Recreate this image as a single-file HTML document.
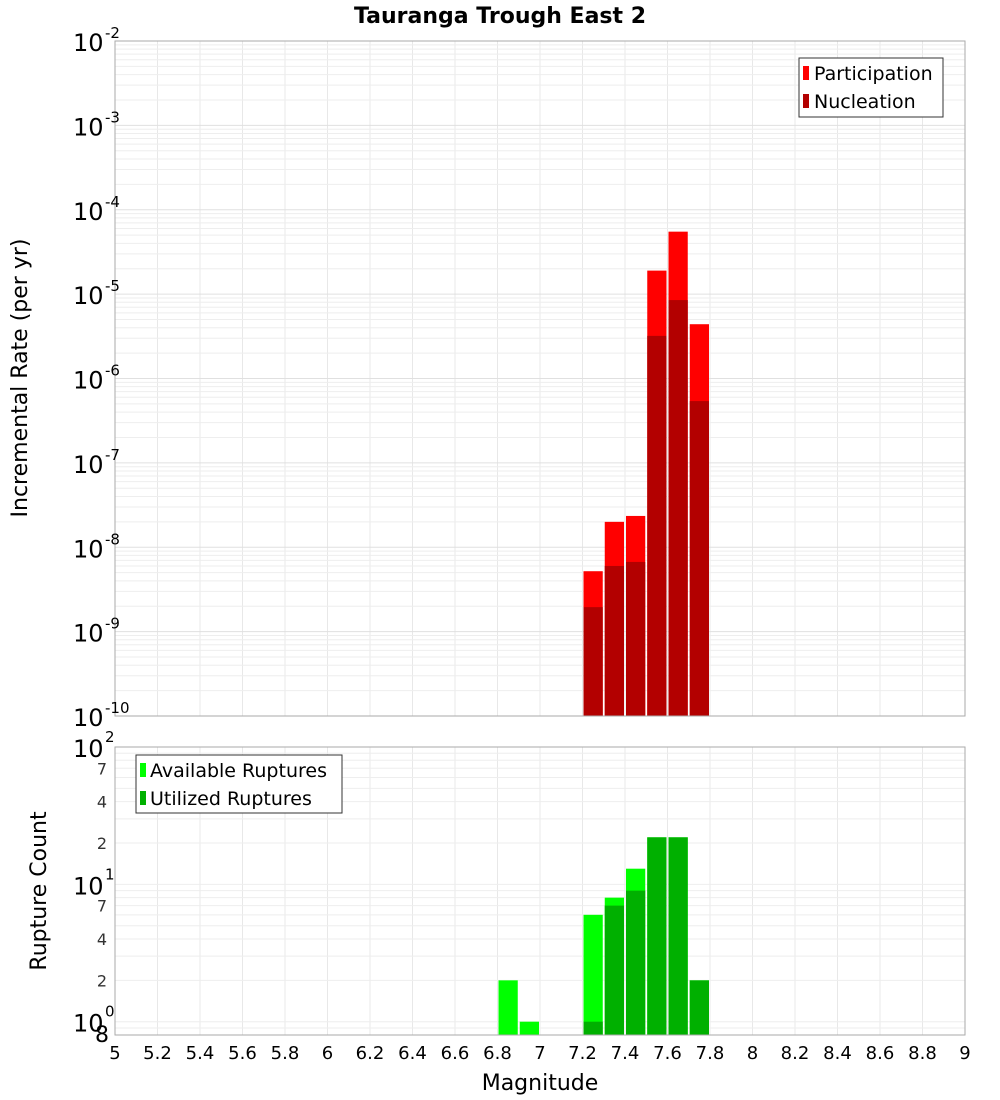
<!DOCTYPE html>
<html><head><meta charset="utf-8"><style>
body{margin:0;background:#fff;}
svg{display:block;font-family:"DejaVu Sans","Liberation Sans",sans-serif;}
</style></head><body>
<svg id="c" width="1000" height="1100" xmlns="http://www.w3.org/2000/svg">
<text x="500" y="23" text-anchor="middle" font-size="22" font-weight="bold">Tauranga Trough East 2</text>
<g id="topplot"></g>
<g id="botplot"></g>
<text transform="translate(27,378) rotate(-90)" text-anchor="middle" font-size="22">Incremental Rate (per yr)</text>
<text transform="translate(46,891) rotate(-90)" text-anchor="middle" font-size="22">Rupture Count</text>
<text x="540" y="1090" text-anchor="middle" font-size="22">Magnitude</text>
<g>
<rect x="799" y="58" width="144" height="59" fill="#fff" stroke="#333"/>
<rect x="803" y="66" width="6" height="14" fill="#ff0000"/>
<text x="814" y="80" font-size="19">Participation</text>
<rect x="803" y="94" width="6" height="14" fill="#b30000"/>
<text x="814" y="108" font-size="19">Nucleation</text>
</g>
<g>
<rect x="136" y="755" width="206" height="58" fill="#fff" stroke="#333"/>
<rect x="140" y="763" width="6" height="14" fill="#00ff00"/>
<text x="150" y="777" font-size="19">Available Ruptures</text>
<rect x="140" y="791" width="6" height="14" fill="#00b000"/>
<text x="150" y="805" font-size="19">Utilized Ruptures</text>
</g>
</svg>
<script>
const mags=[7.25,7.35,7.45,7.55,7.65,7.75];
const participation=[5.2e-9,2.0e-8,2.35e-8,1.9e-5,5.5e-5,4.4e-6];
const nucleation=[1.95e-9,6.0e-9,6.7e-9,3.2e-6,8.5e-6,5.4e-7];
const countMags=[6.85,6.95,7.25,7.35,7.45,7.55,7.65,7.75];
const available=[2,1,6,8,13,22,22,2];
const utilized=[0,0,1,7,9,22,22,2];
const xTicks=[5,5.2,5.4,5.6,5.8,6,6.2,6.4,6.6,6.8,7,7.2,7.4,7.6,7.8,8,8.2,8.4,8.6,8.8,9];
const topExp=[-2,-3,-4,-5,-6,-7,-8,-9,-10];
const botTicks=[2,4,7,20,40,70];
const NS="http://www.w3.org/2000/svg";
const X0=115,X1=965;
const x=m=>X0+(m-5)/4*(X1-X0);
const T0=41,T1=716;
const yT=v=>T0+(-2-Math.log10(v))/8*(T1-T0);
const B0=747,B1=1035,BL=Math.log10(0.8);
const yB=v=>B1-(Math.log10(v)-BL)/(2-BL)*(B1-B0);
function el(p,t,a){const e=document.createElementNS(NS,t);for(const k in a)e.setAttribute(k,a[k]);p.appendChild(e);return e;}
const topG=document.getElementById('topplot'),botG=document.getElementById('botplot');
for(const g of [[topG,T0,T1],[botG,B0,B1]]){
  for(const t of xTicks){const l=el(g[0],'line',{x1:x(t),x2:x(t),y1:g[1],y2:g[2],stroke:'#e8e8e8'});
  
  }
}
for(let e=-10;e<-2;e++)for(let k=1;k<10;k++){const v=k*Math.pow(10,e);const l=el(topG,'line',{x1:X0,x2:X1,y1:yT(v),y2:yT(v),stroke:k==1?'#e0e0e0':'#eeeeee'});

}
for(let e=-1;e<2;e++)for(let k=1;k<10;k++){const v=k*Math.pow(10,e);if(v<0.8)continue;const l=el(botG,'line',{x1:X0,x2:X1,y1:yB(v),y2:yB(v),stroke:'#eeeeee'});

}
const bw=x(5.1)-x(5)-2;
mags.forEach((m,i)=>{
  const r=el(topG,'rect',{x:x(m-0.05)+1,y:yT(participation[i]),width:bw,height:T1-yT(participation[i]),fill:'#ff0000'});
  
  
  const n=el(topG,'rect',{x:x(m-0.05)+1,y:yT(nucleation[i]),width:bw,height:T1-yT(nucleation[i]),fill:'#b30000'});
  
  
});
countMags.forEach((m,i)=>{
  const r=el(botG,'rect',{x:x(m-0.05)+1,y:yB(available[i]),width:bw,height:B1-yB(available[i]),fill:'#00ff00'});
  
  
  if(utilized[i]>0){const n=el(botG,'rect',{x:x(m-0.05)+1,y:yB(utilized[i]),width:bw,height:B1-yB(utilized[i]),fill:'#00b000'});
  
  }
});
el(topG,'rect',{x:X0,y:T0,width:X1-X0,height:T1-T0,fill:'none',stroke:'#aaa'});
el(botG,'rect',{x:X0,y:B0,width:X1-X0,height:B1-B0,fill:'none',stroke:'#aaa'});
topExp.forEach(e=>{const y=yT(Math.pow(10,e));
  const t=el(topG,'text',{x:73,y:y+10,'font-size':24});t.textContent='10';
  
  
  const s=el(topG,'text',{x:105,y:y-3,'font-size':15});s.textContent=String(e);
  
  
});
[[2,'2'],[1,'1'],[0,'0']].forEach(([e,s2])=>{const y=yB(Math.pow(10,e));
  const t=el(botG,'text',{x:73,y:y+10,'font-size':24});t.textContent='10';
  
  
  const s=el(botG,'text',{x:105,y:y-5,'font-size':15});s.textContent=s2;
  
  
});
botTicks.forEach(v=>{const t=el(botG,'text',{x:107,y:yB(v)+6,'font-size':16,'text-anchor':'end',fill:'#333'});t.textContent=String(v).charAt(0);
  
  });
{const t=el(botG,'text',{x:95,y:1042,'font-size':22});t.textContent='8';

}
xTicks.forEach(v=>{const t=el(botG,'text',{x:x(v),y:1059,'font-size':18,'text-anchor':'middle'});t.textContent=String(v);
  
  });
</script>
</body></html>
